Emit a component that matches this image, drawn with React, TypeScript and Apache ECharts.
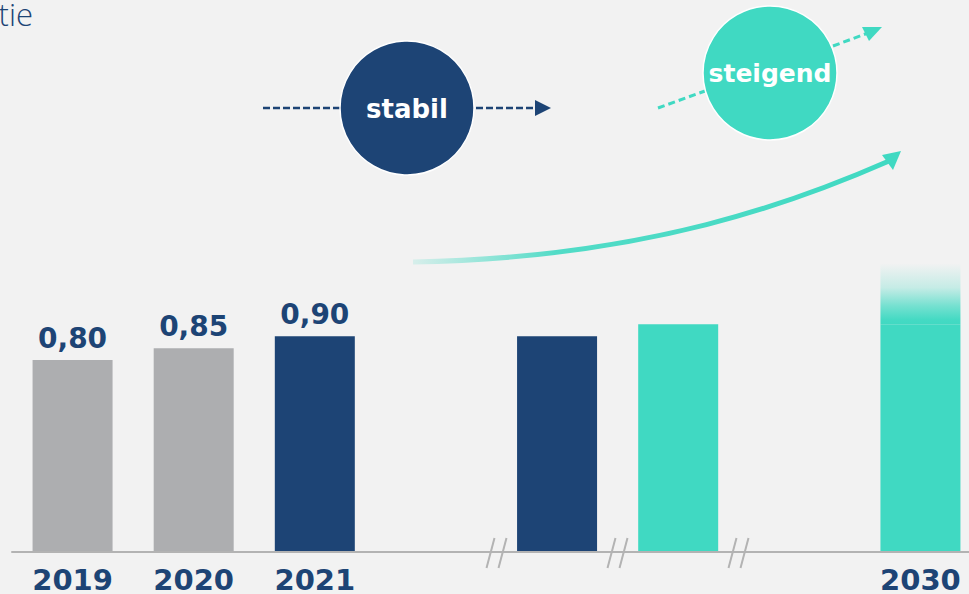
import React, { useEffect, useRef } from "react";
import * as echarts from "echarts";

const categories = ["2019", "2020", "2021", " ", "  ", "   ", "    ", "2030"];
const baseValues: (number | string)[] = [0.8, 0.85, 0.9, "-", 0.9, 0.95, "-", 0.95];
const topValues: (number | string)[] = ["-", "-", "-", "-", "-", "-", "-", 0.255];
const labeledCount = 3;

const NAVY = "#1d4475";
const TEAL = "#40d9c2";
const GRAY = "#adaeb0";
const AXIS = "#b3b3b3";
const BG = "#f2f2f2";

const barColors = [GRAY, GRAY, NAVY, NAVY, NAVY, TEAL, TEAL, TEAL];

export default function App() {
  const ref = useRef<HTMLDivElement>(null);
  useEffect(() => {
    document.body.style.margin = "0";
    const chart = echarts.init(ref.current!, null, { renderer: "svg" });
    const breakXs = [496.5, 617.5, 738.5];
    const breaks: any[] = [];
    breakXs.forEach((bx) => {
      [-6, 6].forEach((dx) => {
        breaks.push({
          type: "line",
          shape: { x1: bx + dx + 4, y1: 538, x2: bx + dx - 4, y2: 568 },
          style: { stroke: AXIS, lineWidth: 2 },
          z: 10,
        });
      });
    });
    chart.setOption({
      animation: false,
      backgroundColor: BG,
      grid: { left: 12, right: 0, top: 73, bottom: 42 },
      xAxis: {
        type: "category",
        data: categories,
        axisLine: { lineStyle: { color: AXIS, width: 2 } },
        axisTick: { show: false },
        axisLabel: {
          color: NAVY,
          fontSize: 29,
          lineHeight: 24,
          fontWeight: "bold",
          fontFamily: "DejaVu Sans",
          margin: 16,
          interval: 0,
        },
        z: 5,
      },
      yAxis: { type: "value", min: 0, max: 2, show: false, splitLine: { show: false } },
      series: [
        {
          type: "bar",
          stack: "s",
          barWidth: 80,
          data: baseValues.map((v, i) => ({
            value: v,
            itemStyle: { color: barColors[i] },
            label: {
              show: i < labeledCount,
              position: "top",
              distance: 8,
              color: NAVY,
              fontSize: 28,
              fontWeight: "bold",
              fontFamily: "DejaVu Sans",
              formatter: (p: any) => Number(p.value).toFixed(2).replace(".", ","),
            },
          })),
        },
        {
          type: "bar",
          stack: "s",
          barWidth: 80,
          data: topValues,
          itemStyle: {
            color: new echarts.graphic.LinearGradient(0, 0, 0, 1, [
              { offset: 0, color: "rgba(64,217,194,0.0)" },
              { offset: 0.4, color: "rgba(64,217,194,0.25)" },
              { offset: 0.7, color: "rgba(64,217,194,0.7)" },
              { offset: 0.92, color: "rgba(64,217,194,0.97)" },
              { offset: 1, color: TEAL },
            ]),
          },
        },
      ],
      graphic: [
        {
          type: "text",
          x: 33,
          y: 14,
          style: {
            text: "tie",
            fill: NAVY,
            fontSize: 31,
            fontWeight: 300,
            fontFamily: "Open Sans",
            align: "right",
            verticalAlign: "middle",
          },
        },
        // stabil
        {
          type: "line",
          shape: { x1: 263, y1: 108, x2: 340, y2: 108 },
          style: { stroke: NAVY, lineWidth: 2.5, lineDash: [7, 3] },
        },
        {
          type: "line",
          shape: { x1: 476, y1: 108, x2: 537, y2: 108 },
          style: { stroke: NAVY, lineWidth: 2.5, lineDash: [7, 3] },
        },
        {
          type: "polygon",
          shape: { points: [[535, 100], [551, 108], [535, 116]] },
          style: { fill: NAVY },
        },
        {
          type: "circle",
          shape: { cx: 407, cy: 108, r: 67 },
          style: { fill: NAVY, stroke: "#ffffff", lineWidth: 1.5 },
        },
        {
          type: "text",
          x: 407,
          y: 109,
          style: {
            text: "stabil",
            fill: "#ffffff",
            fontSize: 26,
            fontWeight: "bold",
            fontFamily: "DejaVu Sans",
            align: "center",
            verticalAlign: "middle",
          },
        },
        // steigend
        {
          type: "line",
          shape: { x1: 658, y1: 108, x2: 705, y2: 91 },
          style: { stroke: TEAL, lineWidth: 3, lineDash: [7, 4] },
        },
        {
          type: "line",
          shape: { x1: 833, y1: 46, x2: 868, y2: 33 },
          style: { stroke: TEAL, lineWidth: 3, lineDash: [7, 4] },
        },
        {
          type: "polygon",
          shape: { points: [[862, 27], [882, 27], [869, 41]] },
          style: { fill: TEAL },
        },
        {
          type: "circle",
          shape: { cx: 770, cy: 73, r: 67 },
          style: { fill: TEAL, stroke: "#ffffff", lineWidth: 1.5 },
        },
        {
          type: "text",
          x: 770,
          y: 73,
          style: {
            text: "steigend",
            fill: "#ffffff",
            fontSize: 25,
            fontWeight: "bold",
            fontFamily: "DejaVu Sans",
            align: "center",
            verticalAlign: "middle",
          },
        },
        // curved arrow
        {
          type: "bezierCurve",
          shape: { x1: 413, y1: 262, cpx1: 650, cpy1: 258, cpx2: 800, cpy2: 200, x2: 889, y2: 161 },
          style: {
            fill: "none",
            lineWidth: 5,
            stroke: new echarts.graphic.LinearGradient(0, 0, 1, 0, [
              { offset: 0, color: "rgba(64,217,194,0.15)" },
              { offset: 0.3, color: "rgba(64,217,194,0.9)" },
              { offset: 1, color: TEAL },
            ]),
          },
        },
        {
          type: "polygon",
          shape: { points: [[882, 155], [901, 151], [893, 170]] },
          style: { fill: TEAL },
        },
        ...breaks,
      ],
    });
    return () => chart.dispose();
  }, []);
  return (
    <div
      style={{ position: "absolute", left: 0, top: 0, width: 969, height: 594, overflow: "hidden" }}
    >
      <div ref={ref} style={{ width: 981, height: 594 }} />
    </div>
  );
}
